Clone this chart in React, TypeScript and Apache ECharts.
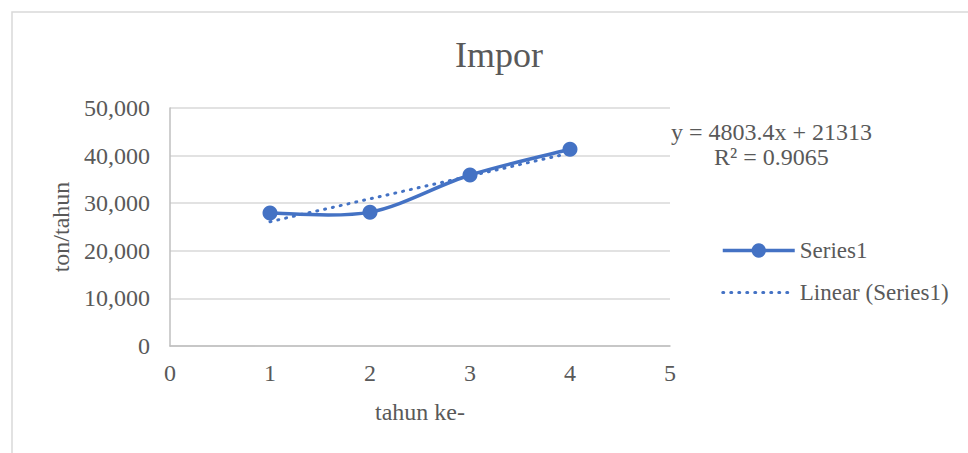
import React, { useEffect, useRef } from "react";
import * as echarts from "echarts";

const titleText = "Impor";
const years = [1, 2, 3, 4];
const imports = [27917, 28120, 35924, 41327];
const xTicks = [0, 1, 2, 3, 4, 5];
const yTicks = [0, 10000, 20000, 30000, 40000, 50000];
const seriesName = "Series1";
const trendName = "Linear (Series1)";
const equationLines = ["y = 4803.4x + 21313", "R² = 0.9065"];
const xAxisTitle = "tahun ke-";
const yAxisTitle = "ton/tahun";

function regression(xs: number[], ys: number[]) {
  const n = xs.length;
  const mx = xs.reduce((a, b) => a + b, 0) / n;
  const my = ys.reduce((a, b) => a + b, 0) / n;
  let sxy = 0;
  let sxx = 0;
  for (let i = 0; i < n; i++) {
    sxy += (xs[i] - mx) * (ys[i] - my);
    sxx += (xs[i] - mx) * (xs[i] - mx);
  }
  const b = sxy / sxx;
  return { b, a: my - b * mx };
}

export default function App() {
  const ref = useRef<HTMLDivElement>(null);
  useEffect(() => {
    if (!ref.current) return;
    const chart = echarts.init(ref.current, null, { renderer: "svg" });
    const { a, b } = regression(years, imports);
    const trend = [years[0], years[years.length - 1]].map((x) => [x, a + b * x]);
    const pts = years.map((x, i) => [x, imports[i]]);
    const font = "Liberation Serif";
    const grey = "#595959";
    const blue = "#4472C4";

    // Excel-style smoothed segment between point i and i+1 (Bezier with 1/6 tangents)
    const renderSmooth = (params: any, api: any) => {
      const i = params.dataIndex;
      if (i >= pts.length - 1) return null;
      const c = (k: number) => api.coord(pts[Math.max(0, Math.min(pts.length - 1, k))]);
      const p0 = c(i - 1);
      const p1 = c(i);
      const p2 = c(i + 1);
      const p3 = c(i + 2);
      const t = 1 / 6;
      return {
        type: "bezierCurve",
        shape: {
          x1: p1[0],
          y1: p1[1],
          x2: p2[0],
          y2: p2[1],
          cpx1: p1[0] + (p2[0] - p0[0]) * t,
          cpy1: p1[1] + (p2[1] - p0[1]) * t,
          cpx2: p2[0] - (p3[0] - p1[0]) * t,
          cpy2: p2[1] - (p3[1] - p1[1]) * t,
        },
        style: { stroke: blue, lineWidth: 3.5, fill: "none", lineCap: "round" },
      };
    };

    chart.setOption({
      animation: false,
      textStyle: { fontFamily: font },
      title: {
        text: titleText,
        left: 450,
        top: 32,
        textStyle: { fontFamily: font, fontSize: 36, fontWeight: "normal", color: grey },
      },
      grid: { left: 170, right: 298, top: 108, bottom: 107 },
      legend: {
        orient: "vertical",
        left: 716,
        top: 234,
        itemWidth: 72,
        itemHeight: 18,
        itemGap: 19,
        textStyle: { fontFamily: font, fontSize: 23, color: grey },
        data: [
          { name: seriesName, lineStyle: { opacity: 1, width: 3.5, color: blue } },
          { name: trendName, itemStyle: { opacity: 0 }, lineStyle: { width: 3, color: blue } },
        ],
      },
      xAxis: {
        type: "value",
        min: xTicks[0],
        max: xTicks[xTicks.length - 1],
        interval: 1,
        name: xAxisTitle,
        nameLocation: "middle",
        nameGap: 54,
        nameTextStyle: { fontFamily: font, fontSize: 24, color: grey },
        axisLine: { show: true, lineStyle: { color: "#bfbfbf", width: 1.5 } },
        axisTick: { show: false },
        splitLine: { show: false },
        axisLabel: { fontFamily: font, fontSize: 24, color: grey, margin: 15 },
      },
      yAxis: {
        type: "value",
        min: yTicks[0],
        max: yTicks[yTicks.length - 1],
        interval: 10000,
        name: yAxisTitle,
        nameLocation: "middle",
        nameGap: 95,
        nameRotate: 90,
        nameTextStyle: { fontFamily: font, fontSize: 24, color: grey },
        axisLine: { show: true, lineStyle: { color: "#bfbfbf", width: 1.5 } },
        axisTick: { show: false },
        splitLine: { show: true, lineStyle: { color: "#d9d9d9", width: 1.5 } },
        axisLabel: {
          fontFamily: font,
          fontSize: 24,
          color: grey,
          margin: 20,
          formatter: (v: number) => v.toLocaleString("en-US"),
        },
      },
      graphic: [
        {
          type: "rect",
          silent: true,
          shape: { x: 12, y: 12, width: 1200, height: 800 },
          style: { fill: "none", stroke: "#d9d9d9", lineWidth: 1.5 },
        },
        {
          type: "text",
          left: 671,
          top: 120,
          style: { text: equationLines[0], font: `24px "${font}"`, fill: grey },
        },
        {
          type: "text",
          left: 714,
          top: 145,
          style: { text: equationLines[1], font: `24px "${font}"`, fill: grey },
        },
      ],
      series: [
        {
          name: seriesName,
          type: "line",
          data: pts,
          symbol: "circle",
          symbolSize: 15,
          itemStyle: { color: blue },
          lineStyle: { color: blue, width: 3.5, opacity: 0 },
          z: 4,
        },
        {
          name: "smoothed",
          type: "custom",
          renderItem: renderSmooth,
          data: pts,
          encode: { x: 0, y: 1 },
          z: 3,
          silent: true,
        },
        {
          name: trendName,
          type: "line",
          data: trend,
          symbol: "none",
          itemStyle: { color: blue },
          lineStyle: { color: blue, width: 3, type: [1, 7], cap: "round" },
          z: 2,
        },
      ],
    });
    return () => chart.dispose();
  }, []);
  return (
    <div
      ref={ref}
      style={{ position: "fixed", left: 0, top: 0, width: 968, height: 453, background: "#fff" }}
    />
  );
}
